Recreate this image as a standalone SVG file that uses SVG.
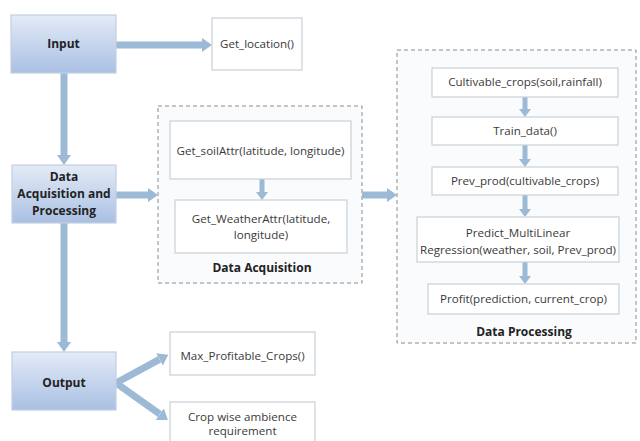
<svg xmlns="http://www.w3.org/2000/svg" width="640" height="441" viewBox="0 0 640 441">
<defs>
<linearGradient id="blue" x1="0" y1="0" x2="0" y2="1">
<stop offset="0" stop-color="#e3ebf7"/>
<stop offset="1" stop-color="#a9c0e3"/>
</linearGradient>
<marker id="ah" markerUnits="userSpaceOnUse" markerWidth="10" markerHeight="14" refX="0" refY="7" orient="auto">
<path d="M0,0 L10,7 L0,14 z" fill="#9cbad6"/>
</marker>
<marker id="ahs" markerUnits="userSpaceOnUse" markerWidth="8" markerHeight="12" refX="0" refY="6" orient="auto">
<path d="M0,0 L8,6 L0,12 z" fill="#9cbad6"/>
</marker>
</defs>
<style>
.main{fill:url(#blue);stroke:#c3cfe2;stroke-width:1.2}
.box{fill:#ffffff;stroke:#c9d0d8;stroke-width:1.2}
.dash{fill:#f9fbfd;stroke:#8c8c8c;stroke-width:1;stroke-dasharray:4 3}
.t{font-family:"Open Sans","Liberation Sans",Arial,sans-serif;font-size:11.6px;fill:#3a3a3a;text-anchor:middle}
.b{font-family:"Open Sans","Liberation Sans",Arial,sans-serif;font-size:12px;font-weight:bold;fill:#222;text-anchor:middle}
.a{stroke:#9cbad6;stroke-width:7;fill:none;marker-end:url(#ah)}
.as{stroke:#9cbad6;stroke-width:5;fill:none;marker-end:url(#ahs)}
</style>
<rect width="640" height="441" fill="#ffffff"/>

<g id="acq-container">
<rect class="dash" x="158" y="106" width="204" height="177"/>
<text class="b" x="262" y="272">Data Acquisition</text>
</g>
<g id="proc-container">
<rect class="dash" x="397" y="50" width="239" height="293"/>
<text class="b" x="524" y="336">Data Processing</text>
</g>

<g id="connectors">
<line class="a" x1="116" y1="45" x2="202" y2="45"/>
<line class="a" x1="64" y1="73" x2="64" y2="155"/>
<line class="a" x1="116" y1="195" x2="148" y2="195"/>
<line class="a" x1="64" y1="223" x2="64" y2="342"/>
<line class="a" x1="362" y1="195" x2="387" y2="195"/>
<line class="a" x1="116" y1="383" x2="159.5" y2="359.4"/>
<line class="a" x1="116" y1="383" x2="159.8" y2="414.2"/>
<line class="as" x1="262" y1="179" x2="262" y2="192"/>
<line class="as" x1="525" y1="97" x2="525" y2="109"/>
<line class="as" x1="525" y1="145" x2="525" y2="159"/>
<line class="as" x1="525" y1="195" x2="525" y2="209"/>
<line class="as" x1="525" y1="262" x2="525" y2="276"/>
</g>

<g id="input">
<rect class="main" x="11" y="15" width="105" height="58"/>
<text class="b" x="63.5" y="48">Input</text>
</g>
<g id="get-location">
<rect class="box" x="212" y="18" width="90" height="52"/>
<text class="t" x="257" y="48">Get_location()</text>
</g>
<g id="data-acq-proc">
<rect class="main" x="12" y="165" width="104" height="58"/>
<text class="b" x="64" y="181">Data</text>
<text class="b" x="64" y="198">Acquisition and</text>
<text class="b" x="64" y="215">Processing</text>
</g>
<g id="get-soil">
<rect class="box" x="170" y="121" width="181" height="58"/>
<text class="t" x="260.5" y="155">Get_soilAttr(latitude, longitude)</text>
</g>
<g id="get-weather">
<rect class="box" x="175" y="200" width="172" height="53"/>
<text class="t" x="261" y="223">Get_WeatherAttr(latitude,</text>
<text class="t" x="261" y="239">longitude)</text>
</g>
<g id="cultivable">
<rect class="box" x="432" y="68" width="186" height="29"/>
<text class="t" x="525" y="86">Cultivable_crops(soil,rainfall)</text>
</g>
<g id="train">
<rect class="box" x="432" y="117" width="186" height="28"/>
<text class="t" x="525" y="135">Train_data()</text>
</g>
<g id="prev-prod">
<rect class="box" x="432" y="167" width="186" height="28"/>
<text class="t" x="525" y="185">Prev_prod(cultivable_crops)</text>
</g>
<g id="predict">
<rect class="box" x="417" y="217" width="202" height="45"/>
<text class="t" x="518" y="237">Predict_MultiLinear</text>
<text class="t" x="518" y="254">Regression(weather, soil, Prev_prod)</text>
</g>
<g id="profit">
<rect class="box" x="428" y="284" width="191" height="30"/>
<text class="t" x="523.5" y="303">Profit(prediction, current_crop)</text>
</g>
<g id="output">
<rect class="main" x="12" y="352" width="104" height="58"/>
<text class="b" x="64" y="387">Output</text>
</g>
<g id="max-profitable">
<rect class="box" x="170" y="332" width="145" height="43"/>
<text class="t" x="242.5" y="360">Max_Profitable_Crops()</text>
</g>
<g id="crop-wise">
<rect class="box" x="170" y="402" width="145" height="45"/>
<text class="t" x="242.5" y="421">Crop wise ambience</text>
<text class="t" x="242.5" y="435">requirement</text>
</g>
</svg>
